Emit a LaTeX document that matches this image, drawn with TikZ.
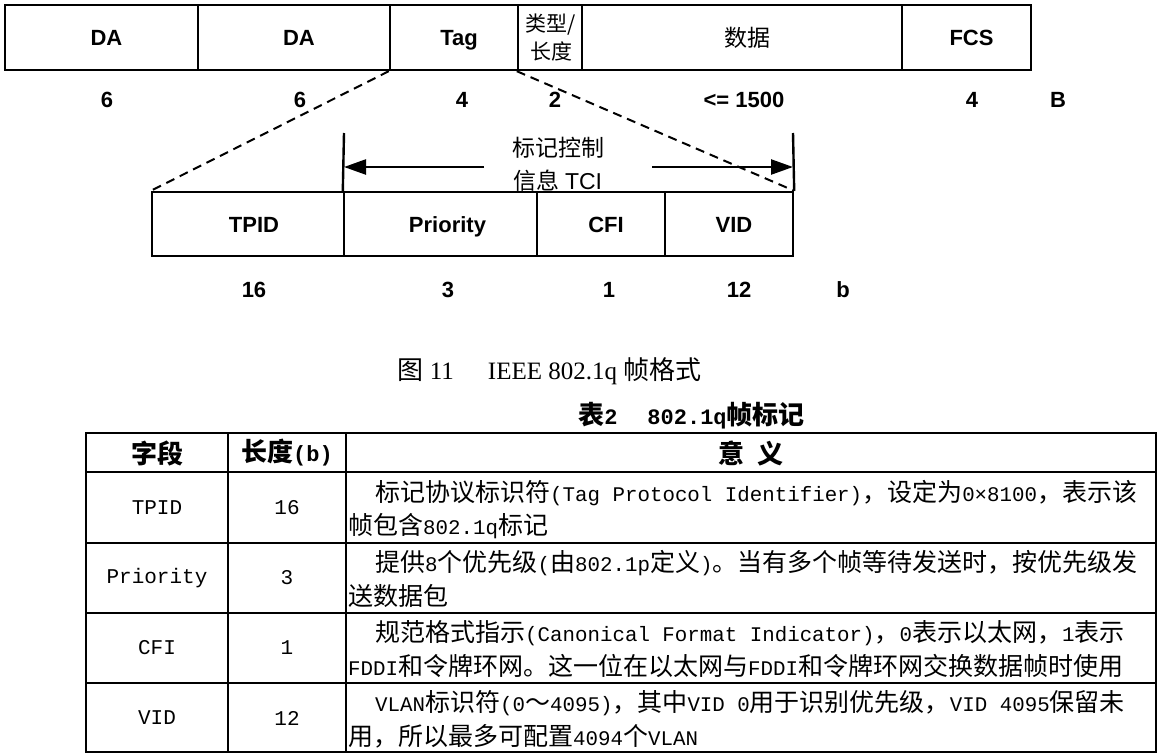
\documentclass[tikz,border=0pt]{standalone}
\usepackage{fontspec}
\setmainfont{Liberation Sans}
\newfontfamily\myzh{Noto Sans CJK SC}
\newfontfamily\mymono{Liberation Mono}
\newfontfamily\myserif{Liberation Serif}
\usetikzlibrary{arrows.meta}
\newcommand\setfs[1]{\fontsize{#1pt}{#1pt}\selectfont}
\newcommand\zhs[2]{{\myzh\fontsize{#1pt}{#1pt}\selectfont #2}}
\newcommand\zd[1]{{\myzh\fontsize{25pt}{25pt}\selectfont #1}}
\begin{document}
\begin{tikzpicture}[x=1pt,y=-1pt,
  fld/.style={draw, line width=2.4pt, minimum height=65pt, inner sep=0pt},
  fldtxt/.style={font=\setfs{22}\bfseries, inner sep=0pt, anchor=base},
  num/.style={font=\setfs{22}\bfseries, inner sep=0pt},
  dashline/.style={line width=2pt, dash pattern=on 9pt off 6pt},
  bar/.style={line width=2.4pt},
  arr/.style={line width=2.4pt, -{Triangle[length=22pt,width=15pt]}},
  gridline/.style={line width=2.4pt},
  head/.style={font=\myzh\setfs{26}\bfseries, inner sep=0pt},
  rowname/.style={font=\mymono\setfs{21}, inner sep=0pt},
  desc/.style={font=\mymono\setfs{20.8}, anchor=west, inner sep=0pt},
]
\useasboundingbox (0,0) rectangle (1162,753);

% ---------- top frame ----------
\node[fld, minimum width=193pt] (da1)  at (101.5,37.5) {};
\node[fld, minimum width=192pt] (da2)  at (294,37.5) {};
\node[fld, minimum width=128pt] (tag)  at (454,37.5) {};
\node[fld, minimum width=64pt]  (type) at (550,37.5) {};
\node[fld, minimum width=320pt] (data) at (742,37.5) {};
\node[fld, minimum width=129pt] (fcs)  at (966.5,37.5) {};

\node[fldtxt] (tda1) at ([xshift=5pt,yshift=-8pt]da1.center) {DA};
\node[fldtxt] (tda2) at ([xshift=5pt,yshift=-8pt]da2.center) {DA};
\node[fldtxt] (ttag) at ([xshift=5pt,yshift=-8pt]tag.center) {Tag};
\node[inner sep=0pt, align=center, font=\myzh\fontsize{21pt}{28pt}\selectfont] (ttype) at ([xshift=1pt]type.center) {类型/\\长度};
\node[inner sep=0pt, font=\myzh\setfs{23}] (tdata) at ([xshift=5pt]data.center) {数据};
\node[fldtxt] (tfcs) at ([xshift=5pt,yshift=-8pt]fcs.center) {FCS};

% byte counts
\node[num] (n1) at (107,100) {6};
\node[num] (n2) at (300,100) {6};
\node[num] (n3) at (462,100) {4};
\node[num] (n4) at (555,100) {2};
\node[num] (n5) at (744,100) {<= 1500};
\node[num] (n6) at (972,100) {4};
\node[num] (n7) at (1058,100) {B};

% ---------- tag detail ----------
\node[fld, minimum width=192pt, minimum height=64pt] (tpid) at (248,224) {};
\node[fld, minimum width=193pt, minimum height=64pt] (prio) at (440.5,224) {};
\node[fld, minimum width=128pt, minimum height=64pt] (cfi)  at (601,224) {};
\node[fld, minimum width=128pt, minimum height=64pt] (vid)  at (729,224) {};

\node[fldtxt] (ttpid) at ([xshift=6pt,yshift=-8pt]tpid.center) {TPID};
\node[fldtxt] (tprio) at ([xshift=7pt,yshift=-8pt]prio.center) {Priority};
\node[fldtxt] (tcfi)  at ([xshift=5pt,yshift=-8pt]cfi.center) {CFI};
\node[fldtxt] (tvid)  at ([xshift=5pt,yshift=-8pt]vid.center) {VID};

\node[num] (b1) at (254,290) {16};
\node[num] (b2) at (448,290) {3};
\node[num] (b3) at (609,290) {1};
\node[num] (b4) at (739,290) {12};
\node[num] (b5) at (843,290) {b};

% dashed expansion lines
\draw[dashline] (tag.south west) -- (tpid.north west);
\draw[dashline] (type.south west) -- (vid.north east);

% TCI bracket
\coordinate (tl) at (344,133);
\coordinate (tr) at (793,133);
\coordinate (aLs) at (484,167);
\coordinate (aL) at (344,167);
\coordinate (aRs) at (652,167);
\coordinate (aR) at (793,167);
\draw[bar] (prio.north west) -- (tl);
\draw[bar] (vid.north east) -- (tr);
\draw[arr] (aLs) -- (aL);
\draw[arr] (aRs) -- (aR);
\node[inner sep=0pt, align=center, font=\myzh\fontsize{23pt}{33pt}\selectfont] (tci) at (558,164) {标记控制\\信息 {\rmfamily TCI}};

% caption
\node[inner sep=0pt, font=\myserif\setfs{25}] (cap) at (549.5,371) {\zhs{26}{图} 11\hspace{34pt}IEEE 802.1q \zhs{26}{帧格式}};

% ---------- table ----------
\node[inner sep=0pt, font=\mymono\setfs{22}\bfseries] (ttl) at (691.5,416) {{\myzh\setfs{26}\bfseries 表}2\hspace{30pt}802.1q{\myzh\setfs{26}\bfseries 帧标记}};

\draw[gridline] (86,433) rectangle (1156,752);
\draw[gridline] (228,433) -- (228,752);
\draw[gridline] (346,433) -- (346,752);
\draw[gridline] (86,472) -- (1156,472);
\draw[gridline] (86,543) -- (1156,543);
\draw[gridline] (86,613) -- (1156,613);
\draw[gridline] (86,683) -- (1156,683);

\node[head] (h1) at (157,453) {字段};
\node[head] (h2) at (287,453) {长度{\mymono\setfs{22}\bfseries (b)}};
\node[head] (h3) at (751,453) {意\hspace{14pt}义};

\node[rowname] (r1) at (157,508) {TPID};
\node[rowname] (r2) at (157,578) {Priority};
\node[rowname] (r3) at (157,648) {CFI};
\node[rowname] (r4) at (157,718) {VID};

\node[rowname] (l1) at (287,508) {16};
\node[rowname] (l2) at (287,578) {3};
\node[rowname] (l3) at (287,648) {1};
\node[rowname] (l4) at (287,718) {12};

\node[desc] (d1a) at (375,493) {\zd{标记协议标识符}(Tag Protocol Identifier)\zd{，设定为}0×8100\zd{，表示该}};
\node[desc] (d1b) at (348,526) {\zd{帧包含}802.1q\zd{标记}};
\node[desc] (d2a) at (375,563) {\zd{提供}8\zd{个优先级}(\zd{由}802.1p\zd{定义})\zd{。当有多个帧等待发送时，按优先级发}};
\node[desc] (d2b) at (348,596) {\zd{送数据包}};
\node[desc] (d3a) at (375,633) {\zd{规范格式指示}(Canonical Format Indicator)\zd{，}0\zd{表示以太网，}1\zd{表示}};
\node[desc] (d3b) at (348,666) {FDDI\zd{和令牌环网。这一位在以太网与}FDDI\zd{和令牌环网交换数据帧时使用}};
\node[desc] (d4a) at (375,703) {VLAN\zd{标识符}(0\zd{～}4095)\zd{，其中}VID 0\zd{用于识别优先级，}VID 4095\zd{保留未}};
\node[desc] (d4b) at (348,736) {\zd{用，所以最多可配置}4094\zd{个}VLAN};
\end{tikzpicture}
\end{document}
